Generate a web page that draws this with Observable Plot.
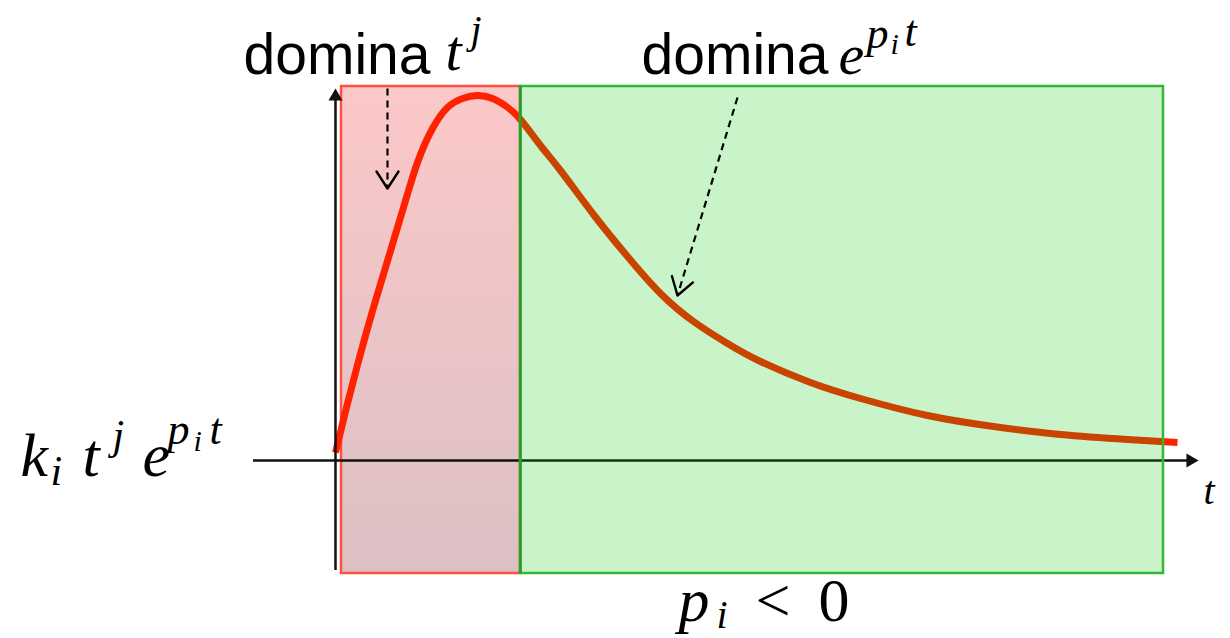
<!DOCTYPE html>
<html><head><meta charset="utf-8">
<script src="https://cdn.jsdelivr.net/npm/d3@7"></script>
<script src="https://cdn.jsdelivr.net/npm/@observablehq/plot@0.6"></script>
<style>html,body{margin:0;padding:0;background:#fff;overflow:hidden}</style>
</head><body><div id="chart"></div>
<script>
// Curve k_i t^j e^{p_i t} (t, value)
const curveT = [0.00,0.11,0.24,0.38,0.53,0.68,0.82,0.97,1.12,1.27,1.42,1.57,1.71,1.85,2.05,2.25,2.58,2.92,3.25,3.58,3.92,4.25,4.75,5.25,5.92,6.58,7.25,7.92,8.42];
const curveV = [0.08,0.53,1.03,1.53,2.03,2.53,2.98,3.32,3.53,3.62,3.65,3.62,3.54,3.41,3.15,2.90,2.46,2.04,1.67,1.39,1.17,0.99,0.78,0.62,0.45,0.34,0.26,0.21,0.18];

// Regions
const regionNames = ["t^j", "e^{p_i t}"];
const regionStart = [0.06, 1.85];
const regionEnd = [1.85, 8.28];
const regionLow = [-1.13, -1.13];
const regionHigh = [3.74, 3.74];

// Axes extents
const axisXFrom = -0.82, axisXTo = 8.55;
const axisYFrom = -1.10, axisYTo = 3.64;

// Dashed annotation arrows
const arrowFromT = [0.52, 4.02];
const arrowFromV = [3.72, 3.63];
const arrowToT = [0.52, 3.42];
const arrowToV = [2.72, 1.65];

// Text pieces
const sansText = ["domina", "domina"];
const sansT = [-0.92, 3.06];
const sansV = [3.87, 3.87];

const mathText = ["t","j","e","p","i","t","k","i","t","j","e","p","i","t","p","i","t"];
const mathT    = [1.10,1.35,5.03,5.31,5.55,5.69,-3.15,-2.85,-2.53,-2.23,-1.93,-1.68,-1.42,-1.26,3.43,3.81,8.68];
const mathV    = [3.91,4.18,3.87,4.13,4.07,4.15,-0.15,-0.24,-0.15,0.12,-0.15,0.17,0.10,0.17,-1.60,-1.67,-0.43];
const mathSize = [58,40,58,44,30,44,62,42,62,42,62,44,30,44,62,40,40];

const symText = ["<", "0"];
const symT = [4.20, 4.83];
const symV = [-1.60, -1.60];

const curve = curveT.map((t, i) => ({t, v: curveV[i]}));
const regions = regionNames.map((n, i) => ({n, x1: regionStart[i], x2: regionEnd[i], y1: regionLow[i], y2: regionHigh[i]}));
const arrows = arrowFromT.map((t, i) => ({x1: t, y1: arrowFromV[i], x2: arrowToT[i], y2: arrowToV[i]}));
const heads = arrows.map(a => ({x: a.x2, y: a.y2, angle: Math.atan2(a.x2 - a.x1, a.y2 - a.y1) * 180 / Math.PI}));
const sans = sansText.map((s, i) => ({s, x: sansT[i], y: sansV[i]}));
const math = mathText.map((s, i) => ({s, x: mathT[i], y: mathV[i], size: mathSize[i]}));
const sym = symText.map((s, i) => ({s, x: symT[i], y: symV[i]}));

const headShape = {draw(ctx) { ctx.moveTo(-11, 17); ctx.lineTo(0, 0); ctx.lineTo(11, 17); }};

const plot = Plot.plot({
  width: 1230, height: 638,
  marginTop: 0, marginRight: 0, marginBottom: 0, marginLeft: 0,
  x: {domain: [-3.35, 8.95], axis: null},
  y: {domain: [-1.78, 4.60], axis: null},
  marks: [
    Plot.rect([regions[0]], {x1: "x1", x2: "x2", y1: "y1", y2: "y2", fill: "url(#redFill)", stroke: "#ff5040", strokeWidth: 2.5}),
    Plot.line(curve, {x: "t", y: "v", stroke: "#ff2200", strokeWidth: 7, curve: "natural", strokeLinecap: "butt"}),
    Plot.ruleY([0], {x1: axisXFrom, x2: axisXTo, stroke: "#111", strokeWidth: 2.5}),
    Plot.ruleX([0], {y1: axisYFrom, y2: axisYTo, stroke: "#111", strokeWidth: 2.5}),
    Plot.dot([{x: 0, y: axisYTo}], {x: "x", y: "y", symbol: "triangle", r: 5.2, fill: "#111", stroke: "none"}),
    Plot.dot([{x: axisXTo, y: 0}], {x: "x", y: "y", symbol: "triangle", r: 5.2, rotate: 90, fill: "#111", stroke: "none"}),
    Plot.rect([regions[1]], {x1: "x1", x2: "x2", y1: "y1", y2: "y2", fill: "rgb(0,200,0)", fillOpacity: 0.21, stroke: "#33b833", strokeWidth: 2.5}),
    Plot.ruleX([regionEnd[0]], {y1: regionLow[0], y2: regionHigh[0], stroke: "#2a9a2a", strokeWidth: 2.5}),
    Plot.link(arrows, {x1: "x1", y1: "y1", x2: "x2", y2: "y2", stroke: "#000", strokeWidth: 2.2, strokeDasharray: "7,5"}),
    Plot.vector(heads, {x: "x", y: "y", rotate: "angle", length: 18, anchor: "start", shape: headShape, stroke: "#000", fill: "none", strokeWidth: 2.4}),
    Plot.text(sans, {x: "x", y: "y", text: "s", textAnchor: "start", lineAnchor: "bottom", fontFamily: "Liberation Sans, Arial, sans-serif", fontSize: 57, fill: "#000"}),
    Plot.text(math, {x: "x", y: "y", text: "s", fontSize: "size", textAnchor: "start", lineAnchor: "bottom", fontFamily: "Liberation Serif, serif", fontStyle: "italic", fill: "#000"}),
    Plot.text(sym, {x: "x", y: "y", text: "s", textAnchor: "start", lineAnchor: "bottom", fontFamily: "Liberation Serif, serif", fontSize: 62, fill: "#000"})
  ]
});
d3.select(plot).insert("defs", ":first-child").html('<linearGradient id="redFill" x1="0" y1="0" x2="0" y2="1"><stop offset="0" stop-color="#fcc8c8"/><stop offset="1" stop-color="#dbc0c4"/></linearGradient>');
document.getElementById("chart").appendChild(plot);
</script>
</body></html>
